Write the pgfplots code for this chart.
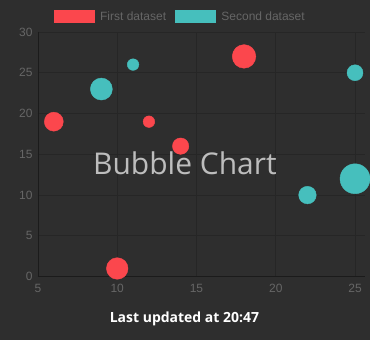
\documentclass[border=0pt]{standalone}
\usepackage{fontspec}
\setmainfont{Liberation Sans}
\newfontfamily\opensans{Open Sans}
\usepackage{pgfplots}
\pgfplotsset{compat=1.18}
\definecolor{bg}{HTML}{2E2E2E}
\definecolor{gridc}{HTML}{262626}
\definecolor{zeroc}{HTML}{1B1B1B}
\definecolor{tickc}{HTML}{666666}
\definecolor{cred}{HTML}{FB474D}
\definecolor{ccyan}{HTML}{46BFBD}
\definecolor{titlec}{HTML}{BDBDBD}
\begin{document}
\begin{tikzpicture}
\fill[bg] (0,0) rectangle (370pt,340pt);
\begin{axis}[
  at={(38pt,63pt)}, anchor=south west,
  scale only axis, width=327pt, height=245pt,
  xmin=5, xmax=25.6, ymin=0, ymax=30,
  xtick={5,10,15,20,25}, ytick={0,5,10,15,20,25,30},
  axis line style={draw=none},
  grid=major, major grid style={gridc, line width=0.8pt},
  tick style={draw=none},
  ticklabel style={font=\fontsize{12}{14}\selectfont, text=tickc},
  /pgf/number format/assume math mode=true,
  xticklabel style={yshift=-4pt},
  yticklabel style={xshift=-2pt},
  clip=false,
  legend columns=2,
  legend style={draw=none, fill=none, at={(0.048,1.033)}, anchor=south west,
    font=\fontsize{12}{14}\selectfont, text=tickc, inner sep=0pt,
    /tikz/every odd column/.append style={column sep=4pt},
    /tikz/every even column/.append style={column sep=7pt}},
]
\addplot[zeroc, line width=0.9pt, forget plot] coordinates {(5,30) (5,0) (25.6,0)};
\addplot[draw=none, forget plot] coordinates {(14.27,12.57)} node[anchor=base, text=titlec, font=\opensans\fontsize{30}{32}\selectfont, pos=0] {Bubble Chart};
\addlegendimage{legend image code/.code={\fill[cred] (0pt,-6pt) rectangle (40pt,6pt);}}
\addlegendentry{First dataset}
\addlegendimage{legend image code/.code={\fill[ccyan] (0pt,-6pt) rectangle (40pt,6pt);}}
\addlegendentry{Second dataset}
\addplot[scatter, only marks, mark=*, forget plot, point meta=explicit,
  scatter/use mapped color={draw=cred, fill=cred},
  visualization depends on={\thisrow{r}\as\rr},
  scatter/@pre marker code/.append style={/tikz/mark size=\rr pt}]
  table[x=x, y=y, meta=r] {
x y r
6 19 9.5
12 19 5.8
14 16 8.2
18 27 11.8
10 1 10.8
};
\addplot[scatter, only marks, mark=*, forget plot, point meta=explicit,
  scatter/use mapped color={draw=ccyan, fill=ccyan},
  visualization depends on={\thisrow{r}\as\rr},
  scatter/@pre marker code/.append style={/tikz/mark size=\rr pt}]
  table[x=x, y=y, meta=r] {
x y r
9 23 11
11 26 5.8
25 25 8
22 10 8.8
25 12 15
};
\node[anchor=base, text=white, font=\opensans\bfseries\fontsize{14}{16}\selectfont] at (axis cs:14.24,-5.63) {Last updated at 20:47};
\end{axis}
\useasboundingbox (0,0) rectangle (370pt,340pt);
\end{tikzpicture}
\end{document}
